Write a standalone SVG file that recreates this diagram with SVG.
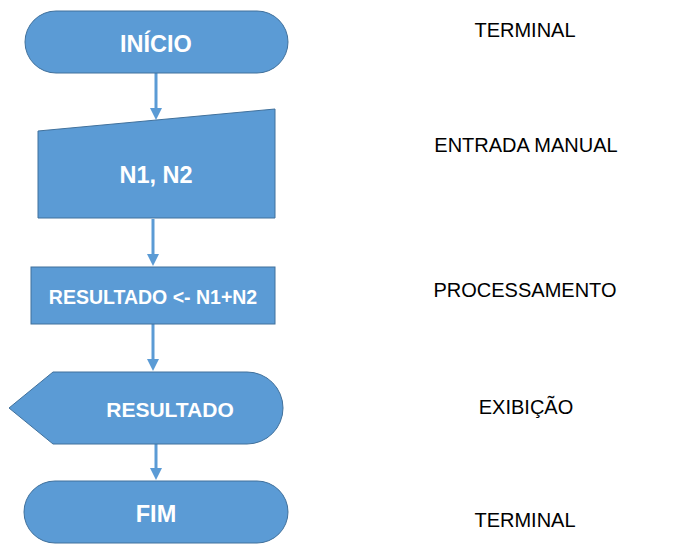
<svg xmlns="http://www.w3.org/2000/svg" width="680" height="560" viewBox="0 0 680 560">
<style>
.shape{fill:#5B9BD5;stroke:#41719C;stroke-width:1}
.nt{font-family:"Liberation Sans",Arial,sans-serif;font-weight:bold;fill:#FFFFFF;text-anchor:middle}
.lb{font-family:"Liberation Sans",Arial,sans-serif;font-size:20px;fill:#000000;text-anchor:middle}
.conn{stroke:#5B9BD5;stroke-width:3;fill:none;marker-end:url(#ah)}
</style>
<defs>
<marker id="ah" markerUnits="userSpaceOnUse" markerWidth="12" markerHeight="12" viewBox="0 0 12 12" refX="4" refY="6" orient="auto">
<path d="M0,0 L12,6 L0,12 Z" fill="#5B9BD5"/>
</marker>
</defs>
<rect width="680" height="560" fill="#FFFFFF"/>
<g id="connectors">
<line class="conn" x1="156" y1="73" x2="156" y2="112"/>
<line class="conn" x1="153" y1="219" x2="153" y2="258"/>
<line class="conn" x1="153" y1="324" x2="153" y2="363"/>
<line class="conn" x1="156" y1="444" x2="156" y2="472"/>
</g>
<g id="inicio">
<rect class="shape" x="25" y="11" width="263" height="62" rx="31" ry="31"/>
<text class="nt" x="156" y="52" font-size="23.5">INÍCIO</text>
</g>
<g id="entrada">
<path class="shape" d="M38,131 L275,109 L275,218 L38,218 Z"/>
<text class="nt" x="156" y="183" font-size="23.5">N1, N2</text>
</g>
<g id="processo">
<rect class="shape" x="31" y="267" width="244" height="57"/>
<text class="nt" x="153" y="304" font-size="19.5">RESULTADO &lt;- N1+N2</text>
</g>
<g id="exibicao">
<path class="shape" d="M9,408 L53,372 L247,372 A36,36 0 0 1 247,444 L53,444 Z"/>
<text class="nt" x="170" y="417" font-size="21">RESULTADO</text>
</g>
<g id="fim">
<rect class="shape" x="24" y="481" width="264" height="62" rx="31" ry="31"/>
<text class="nt" x="156" y="522" font-size="23.5">FIM</text>
</g>
<g id="labels">
<text class="lb" x="525" y="37">TERMINAL</text>
<text class="lb" x="526" y="152">ENTRADA MANUAL</text>
<text class="lb" x="525" y="297">PROCESSAMENTO</text>
<text class="lb" x="526" y="414">EXIBIÇÃO</text>
<text class="lb" x="525" y="527">TERMINAL</text>
</g>
</svg>
